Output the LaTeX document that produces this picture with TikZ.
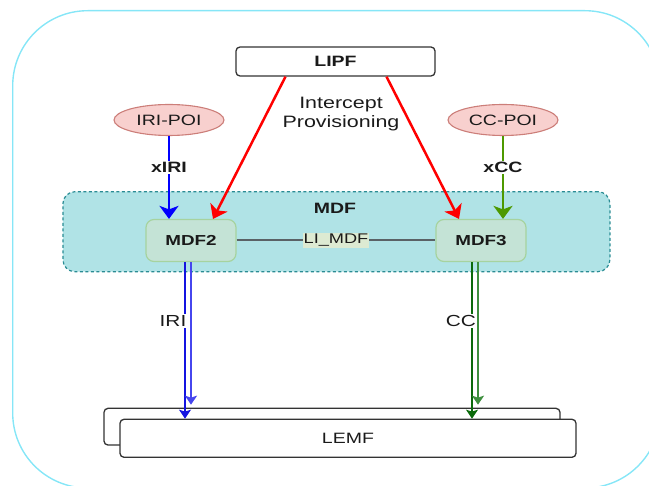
\documentclass[tikz,border=0pt]{standalone}
\usepackage{fontspec}
\setmainfont{Liberation Sans}[FakeStretch=1.3]
\usetikzlibrary{shapes.geometric,arrows.meta}

\definecolor{textgray}{HTML}{1A1A1A}
\definecolor{boxline}{HTML}{333333}
\definecolor{outerline}{HTML}{86E6F7}
\definecolor{mdfarea}{HTML}{B0E3E6}
\definecolor{mdfdash}{HTML}{2A8C94}
\definecolor{mdffill}{HTML}{C4E3D6}
\definecolor{mdfline}{HTML}{A6D39F}
\definecolor{poifill}{HTML}{F8D0CE}
\definecolor{poiline}{HTML}{CC7E79}
\definecolor{linkgray}{HTML}{5A6266}
\definecolor{linkfill}{HTML}{DDEAD2}
\definecolor{xccgreen}{HTML}{4D9900}
\definecolor{ccdark}{HTML}{0B6A0B}
\definecolor{cclight}{HTML}{3E8F3E}
\definecolor{iridark}{HTML}{1414E0}
\definecolor{irilight}{HTML}{4646EE}

\tikzset{
  plainbox/.style={draw=boxline, line width=1.3pt, rounded corners=4pt, fill=white, inner sep=0pt},
  mdfbox/.style={draw=mdfline, fill=mdffill, line width=1.2pt, rounded corners=8pt,
    minimum width=90pt, minimum height=42pt, inner sep=0pt, font=\fontsize{14.5}{16}\selectfont\bfseries},
  poi/.style={ellipse, draw=poiline, fill=poifill, line width=1.1pt, minimum width=110pt,
    minimum height=31pt, inner sep=0pt, font=\fontsize{15}{17}\selectfont},
  feed/.style={line width=2.5pt, -{Stealth[length=13pt,width=19pt,inset=3.5pt]}},
  handover/.style={line width=1.6pt, -{Stealth[length=9pt,width=12pt,inset=2pt]}},
  lbl/.style={fill=white, inner sep=1pt, font=\fontsize{16}{18}\selectfont},
  boldlbl/.style={fill=white, inner sep=1pt, font=\fontsize{15}{17}\selectfont\bfseries},
}

\begin{document}
\begin{tikzpicture}[x=1pt, y=-1pt, every node/.style={text=textgray}]

\useasboundingbox (0,0) rectangle (649,486);
\clip (0,0) rectangle (649,486);

\draw[outerline, line width=1.4pt, rounded corners=75pt] (12.7,10.7) rectangle (660,488);

\node[plainbox, minimum width=199pt, minimum height=29pt, font=\fontsize{15}{17}\selectfont\bfseries] (lipf) at (335.5,61.5) {LIPF};
\node[align=center, font=\fontsize{16.5}{19}\selectfont] (provisioning) at (341,114) {Intercept\\Provisioning};

\node[poi] (iripoi) at (169,120) {IRI-POI};
\node[poi] (ccpoi) at (503,120) {CC-POI};

\node[draw=mdfdash, fill=mdfarea, line width=1.2pt, dash pattern=on 3pt off 2.5pt, rounded corners=12pt,
  minimum width=547pt, minimum height=80pt, inner sep=0pt] (mdf) at (336.4,231.7) {};
\node[font=\fontsize{15}{17}\selectfont\bfseries] (mdftitle) at (335,208) {MDF};

\node[mdfbox] (mdf2) at (191,240.5) {MDF2};
\node[mdfbox] (mdf3) at (481,240.5) {MDF3};

\draw[linkgray, line width=2pt] (mdf2) -- node[fill=linkfill, inner sep=1pt, text=textgray, font=\fontsize{14}{16}\selectfont] (limdf) {LI\_MDF} (mdf3);

\draw[feed, blue] (iripoi.south) -- node[boldlbl, text=textgray, pos=0.38] (xiri) {xIRI} ([xshift=-22pt]mdf2.north);
\draw[feed, xccgreen] (ccpoi.south) -- node[boldlbl, text=textgray, pos=0.38] (xcc) {xCC} ([xshift=22pt]mdf3.north);
\draw[feed, red] ([xshift=-50pt]lipf.south) -- ([xshift=22pt]mdf2.north);
\draw[feed, red] ([xshift=51pt]lipf.south) -- ([xshift=-22pt]mdf3.north);

\node[plainbox, minimum width=456pt, minimum height=36.7pt] (lemfback) at (332,426.7) {};
\node[plainbox, minimum width=456pt, minimum height=38pt, font=\fontsize{15}{17}\selectfont] (lemf) at (348,438.3) {LEMF};

\draw[handover, iridark] ([xshift=-6pt]mdf2.south) -- ([xshift=-6pt]mdf2.south |- lemf.north);
\node[lbl] (iri) at (173,321) {IRI};
\draw[handover, irilight, shorten >=3pt] (mdf2.south) -- (mdf2.south |- lemfback.north);

\draw[handover, ccdark] ([xshift=-9pt]mdf3.south) -- ([xshift=-9pt]mdf3.south |- lemf.north);
\node[lbl] (cc) at (461,321) {CC};
\draw[handover, cclight, shorten >=3pt] ([xshift=-3pt]mdf3.south) -- ([xshift=-3pt]mdf3.south |- lemfback.north);

\end{tikzpicture}
\end{document}
